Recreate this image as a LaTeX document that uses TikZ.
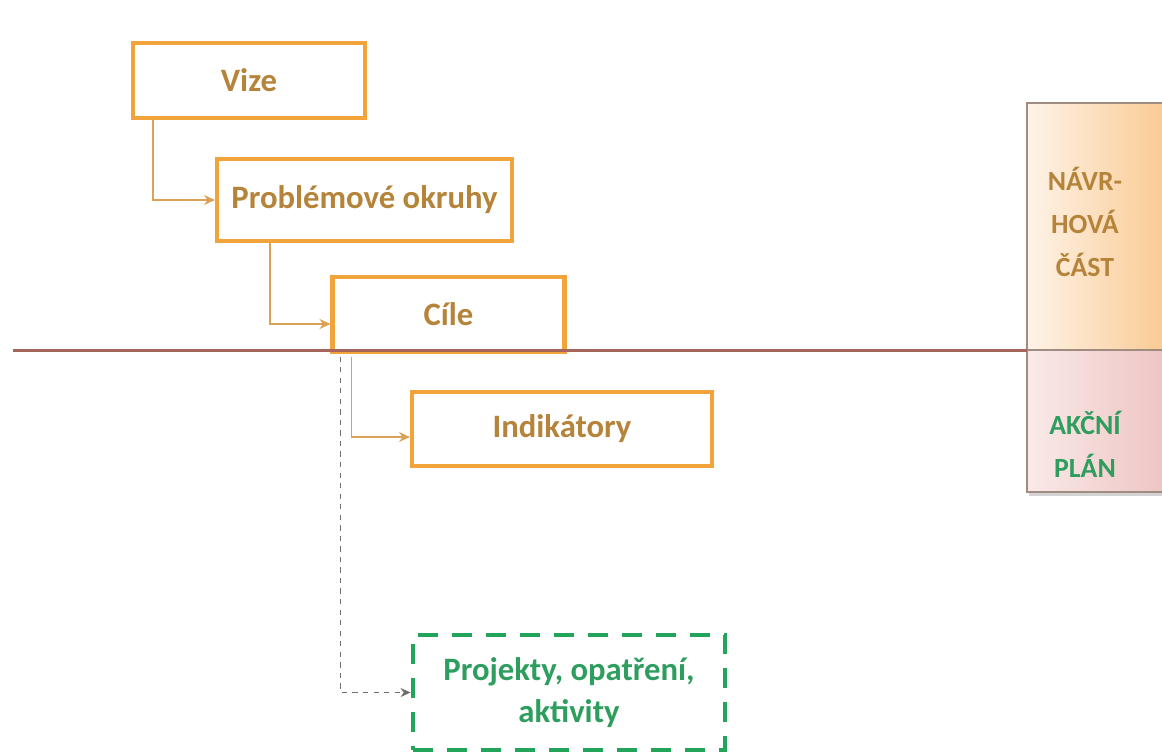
\documentclass[tikz,border=0pt]{standalone}
\usepackage{fontspec}
\setmainfont{Carlito}
\usepackage{tikz}
\usetikzlibrary{arrows.meta,positioning,shadows}
\usepackage{xcolor}
\definecolor{boxorange}{HTML}{F2A33A}
\definecolor{txtgold}{HTML}{B5843A}
\definecolor{linkcol}{HTML}{D9A254}
\definecolor{sepline}{HTML}{A5645C}
\definecolor{greenbox}{HTML}{22A55B}
\definecolor{greentxt}{HTML}{2E9E5E}
\definecolor{dashgray}{HTML}{6E6E6E}
\definecolor{panelline}{HTML}{A08C80}
\definecolor{peachL}{HTML}{FEF3E8}
\definecolor{peachR}{HTML}{F9C68A}
\definecolor{pinkL}{HTML}{F9EAE8}
\definecolor{pinkR}{HTML}{EDC0C0}

\begin{document}
\begin{tikzpicture}[
  box/.style={rectangle,draw=boxorange,fill=white,line width=2.3pt,
              minimum width=4.64cm,minimum height=1.5cm,text centered,
              text=txtgold,font=\fontsize{18.6}{22}\selectfont\bfseries},
  greenbox/.style={box,draw=greenbox,text=greentxt,line width=2.8pt,
              dash pattern=on 0.4cm off 0.28cm,align=center},
  paneltxt/.style={align=center,font=\fontsize{15.8}{24.5}\selectfont\bfseries},
  arrow/.style={-{Stealth[length=0.22cm,width=0.2cm]},draw=linkcol,line width=0.85pt},
  dasharrow/.style={-{Stealth[length=0.2cm,width=0.18cm]},draw=dashgray,line width=0.7pt,dashed}
]
\useasboundingbox (0,0) rectangle (23.24,-15.06);

% panel on the right
\coordinate (panelTL) at (20.54,-2.06);
\coordinate (panelM)  at (23.6,-7.0);
\coordinate (panelBL) at (20.54,-7.0);
\coordinate (panelBR) at (23.6,-9.84);
\draw[panelline,line width=0.6pt,left color=peachL,right color=peachR]
  (panelTL) rectangle (panelM);
\draw[panelline,line width=0.6pt,left color=pinkL,right color=pinkR,
      drop shadow={shadow xshift=0.04cm,shadow yshift=-0.08cm,opacity=0.35}]
  (panelBL) rectangle (panelBR);
\node[paneltxt,text=txtgold]  (navrhtxt) at (21.7,-4.44) {NÁVR-\\HOVÁ\\ČÁST};
\node[paneltxt,text=greentxt] (akcetxt)  at (21.7,-8.88) {AKČNÍ\\PLÁN};

% boxes
\node[box] (vize)  at (4.98,-1.61) {Vize};
\node[box,minimum width=5.9cm,minimum height=1.64cm] (okruhy) at (7.29,-4.0) {Problémové okruhy};
\node[box] (cile)  at (8.97,-6.29) {Cíle};
\node[box,minimum width=6.0cm,minimum height=1.48cm] (indik) at (11.24,-8.58) {Indikátory};
\node[greenbox,minimum width=6.24cm,minimum height=2.3cm,
      font=\fontsize{18.6}{23.5}\selectfont\bfseries] (projekty) at (11.38,-13.85)
  {Projekty, opatření,\\aktivity};

% dividing line
\coordinate (lineL) at (0.26,-7.0);
\draw[sepline,line width=1.7pt] (lineL) -- (panelBL);

% connectors
\draw[arrow] ([xshift=0.44cm]vize.south west) |- (okruhy.west);
\draw[arrow] ([xshift=1.1cm]okruhy.south west) |- ([yshift=-0.19cm]cile.west);
\draw[arrow] ([xshift=0.42cm,yshift=-0.05cm]cile.south west) |- ([yshift=-0.16cm]indik.west);
\draw[dasharrow] ([xshift=0.2cm,yshift=-0.05cm]cile.south west) |- (projekty.west);
\end{tikzpicture}
\end{document}
